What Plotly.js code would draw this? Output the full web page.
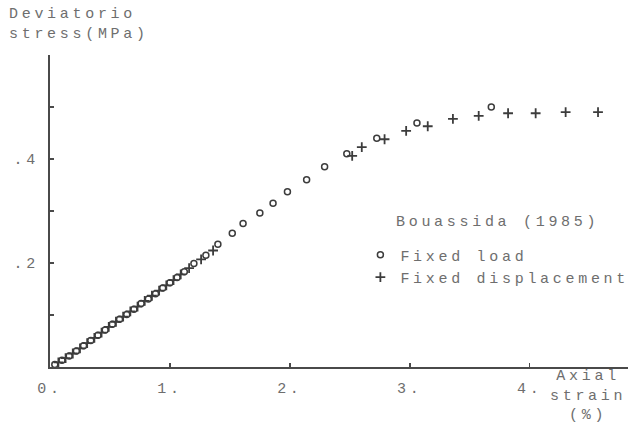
<!DOCTYPE html>
<html>
<head>
<meta charset="utf-8">
<script src="https://cdn.plot.ly/plotly-3.0.1.min.js"></script>
<style>
html,body{margin:0;padding:0;background:#fff;}
#chart{width:639px;height:426px;}
svg text{letter-spacing:3.7px;}
</style>
</head>
<body>
<div id="chart"></div>
<script>
// Fixed load (open circles)
const loadStrain = [0.04,0.10,0.16,0.22,0.28,0.34,0.40,0.46,0.52,0.58,0.64,0.70,0.76,0.82,0.88,0.94,1.00,1.06,1.12,1.20,1.30,1.40,1.52,1.61,1.75,1.86,1.98,2.14,2.29,2.475,2.725,3.06,3.68];
const loadStress = [0.005,0.013,0.021,0.031,0.041,0.051,0.061,0.071,0.082,0.092,0.101,0.111,0.122,0.131,0.141,0.152,0.162,0.172,0.183,0.199,0.215,0.236,0.257,0.276,0.296,0.315,0.337,0.360,0.385,0.410,0.440,0.469,0.500];
// Fixed displacement (crosses)
const dispStrain = [0.07,0.13,0.19,0.25,0.31,0.37,0.43,0.49,0.55,0.61,0.67,0.73,0.79,0.85,0.91,0.97,1.03,1.09,1.16,1.26,1.36,2.52,2.60,2.79,2.97,3.15,3.36,3.575,3.82,4.05,4.30,4.57];
const dispStress = [0.009,0.017,0.026,0.036,0.046,0.056,0.066,0.077,0.087,0.097,0.107,0.116,0.127,0.137,0.147,0.157,0.167,0.178,0.190,0.207,0.224,0.406,0.423,0.438,0.454,0.463,0.477,0.483,0.488,0.488,0.490,0.490];

const xTickVals = [0,1,2,3,4];
const xTickText = ["0.","1.","2.","3.","4."];
const yTickVals = [0.1,0.2,0.3,0.4,0.5];
const yTickText = ["",".2","",".4",""];

const yTitle = "Deviatorio<br>stress(MPa)";
const xTitle = "Axial<br>strain<br>(%)";
const legendTitle = "Bouassida (1985)";
const seriesNames = ["Fixed load","Fixed displacement"];

const FONT = "Liberation Mono, DejaVu Sans Mono, monospace";
const TXT = "#6e6e6e";
const AX = "#4a4a4a";
const MK = "#3c3c3c";

const traces = [
  {x: loadStrain, y: loadStress, type:"scatter", mode:"markers", name: seriesNames[0],
   marker:{symbol:"circle-open", size:6, color:MK, line:{width:1.5, color:MK}}},
  {x: dispStrain, y: dispStress, type:"scatter", mode:"markers", name: seriesNames[1],
   marker:{symbol:"cross-thin-open", size:7, color:MK, line:{width:1.8, color:MK}}}
];

const layout = {
  width:639, height:426,
  margin:{l:50, r:11, t:55, b:59, autoexpand:false},
  paper_bgcolor:"#ffffff", plot_bgcolor:"#ffffff",
  font:{family:FONT, size:15, color:TXT},
  showlegend:true,
  legend:{x:0.537, y:0.412, xanchor:"left", yanchor:"top", bgcolor:"rgba(0,0,0,0)",
          font:{family:FONT, size:15, color:TXT}, tracegroupgap:0, itemwidth:30},
  xaxis:{range:[0,4.82], showgrid:false, zeroline:false, showline:true, linecolor:AX, linewidth:2,
         tickmode:"array", tickvals:xTickVals, ticktext:xTickText, ticks:"inside", ticklen:4,
         tickcolor:AX, tickwidth:1.5, ticklabelstandoff:6, tickfont:{family:FONT,size:15,color:TXT}},
  yaxis:{range:[0,0.6], showgrid:false, zeroline:false, showline:true, linecolor:AX, linewidth:2,
         tickmode:"array", tickvals:yTickVals, ticktext:yTickText, ticks:"inside", ticklen:4,
         tickcolor:AX, tickwidth:1.5, ticklabelstandoff:6, tickfont:{family:FONT,size:15,color:TXT}},
  annotations:[
    {text:yTitle, xref:"paper", yref:"paper", x:-0.075, y:1.163, xanchor:"left", yanchor:"top",
     align:"left", showarrow:false, font:{family:FONT,size:15,color:TXT}},
    {text:xTitle, xref:"paper", yref:"paper", x:0.93, y:0.004, xanchor:"center", yanchor:"top",
     align:"center", showarrow:false, font:{family:FONT,size:15,color:TXT}},
    {text:legendTitle, xref:"paper", yref:"paper", x:0.596, y:0.462, xanchor:"left", yanchor:"middle",
     showarrow:false, font:{family:FONT,size:15,color:TXT}}
  ]
};

Plotly.newPlot("chart", traces, layout, {displayModeBar:false, staticPlot:true});
</script>
</body>
</html>
